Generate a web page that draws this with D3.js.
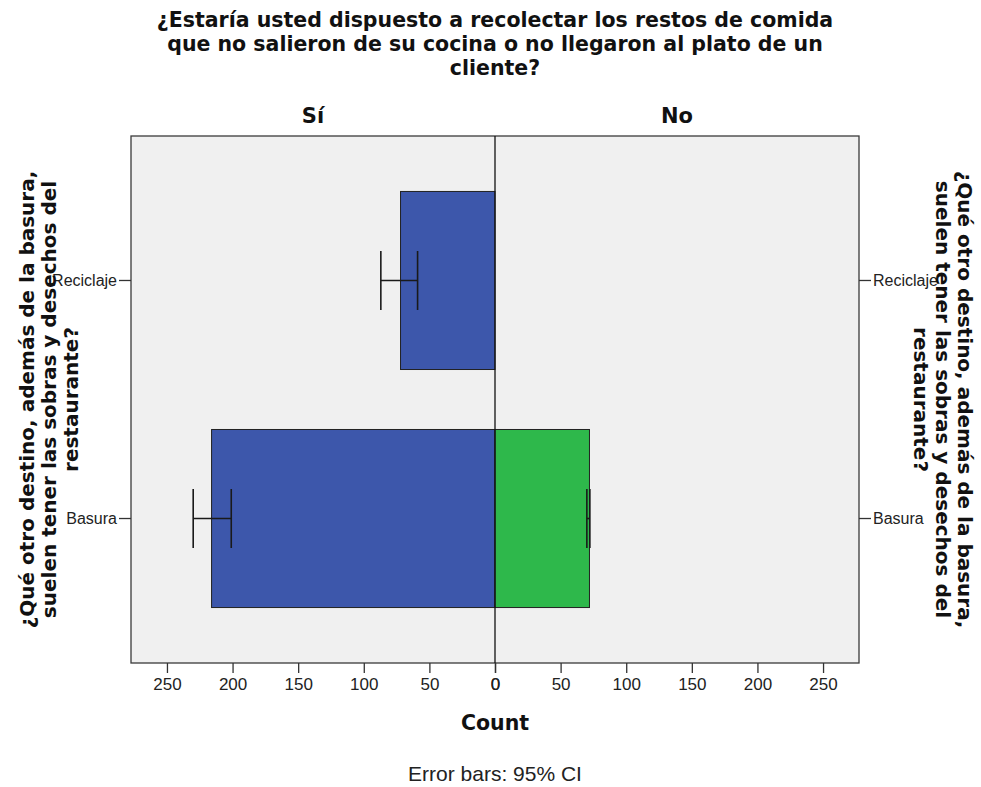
<!DOCTYPE html>
<html>
<head>
<meta charset="utf-8">
<script src="https://cdn.jsdelivr.net/npm/d3@7"></script>
<style>
  body { margin: 0; background: #ffffff; }
  svg { display: block; }
</style>
</head>
<body>
<svg id="chart" width="981" height="787"></svg>
<script>
// Categories of the response variable (rows) and the two answer panels (columns)
const categories = ["Reciclaje", "Basura"];
const panels = ["Sí", "No"];

// Counts per category in each panel
const countSi = [72, 216];
const countNo = [null, 72];

// 95% confidence intervals of the counts
const ciLowSi = [59, 201];
const ciHighSi = [87, 230];
const ciLowNo = [null, 70];
const ciHighNo = [null, 72.3];

// Tick values of the count axes
const xTicks = [0, 50, 100, 150, 200, 250];

const titleLines = [
  "¿Estaría usted dispuesto a recolectar los restos de comida",
  "que no salieron de su cocina o no llegaron al plato de un",
  "cliente?"
];
const axisTitleLines = [
  "¿Qué otro destino, además de la basura,",
  "suelen tener las sobras y desechos del",
  "restaurante?"
];
const xAxisTitle = "Count";
const footnote = "Error bars: 95% CI";

const panelColors = ["#3d57ab", "#2eb84b"];

const svg = d3.select("#chart");
const plot = { left: 131, right: 859, top: 136, bottom: 663 };
const mid = 495;
const xMax = 277.4;

const boldFont = "'DejaVu Sans', sans-serif";
const plainFont = "'Liberation Sans', Arial, sans-serif";

const xLeft = d3.scaleLinear().domain([xMax, 0]).range([plot.left, mid]);
const xRight = d3.scaleLinear().domain([0, xMax]).range([mid, plot.right]);
const y = d3.scaleBand()
  .domain(categories)
  .range([plot.top, plot.bottom])
  .paddingInner(0.252)
  .paddingOuter(0.233);

const panelData = [
  { name: panels[0], x: xLeft, values: countSi, lo: ciLowSi, hi: ciHighSi, color: panelColors[0] },
  { name: panels[1], x: xRight, values: countNo, lo: ciLowNo, hi: ciHighNo, color: panelColors[1] }
];

// Plot background
svg.append("rect")
  .attr("x", plot.left).attr("y", plot.top)
  .attr("width", plot.right - plot.left).attr("height", plot.bottom - plot.top)
  .attr("fill", "#f0f0f0");

// Bars
panelData.forEach(p => {
  const g = svg.append("g").attr("class", "bars");
  categories.forEach((c, i) => {
    const v = p.values[i];
    if (v == null) return;
    const x0 = p.x(0), x1 = p.x(v);
    g.append("rect")
      .attr("x", Math.min(x0, x1))
      .attr("y", y(c))
      .attr("width", Math.abs(x1 - x0))
      .attr("height", y.bandwidth())
      .attr("fill", p.color)
      .attr("stroke", "#222")
      .attr("stroke-width", 1);
  });
});

// Error bars
const capHalf = 29.5;
panelData.forEach(p => {
  const g = svg.append("g").attr("class", "errorbars")
    .attr("stroke", "#1a1a1a").attr("stroke-width", 1.6).attr("fill", "none");
  categories.forEach((c, i) => {
    const lo = p.lo[i], hi = p.hi[i];
    if (lo == null || hi == null) return;
    const yc = y(c) + y.bandwidth() / 2;
    g.append("line").attr("x1", p.x(lo)).attr("x2", p.x(hi)).attr("y1", yc).attr("y2", yc);
    [lo, hi].forEach(v => {
      g.append("line").attr("x1", p.x(v)).attr("x2", p.x(v))
        .attr("y1", yc - capHalf).attr("y2", yc + capHalf);
    });
  });
});

// Frame and panel divider
svg.append("rect")
  .attr("x", plot.left).attr("y", plot.top)
  .attr("width", plot.right - plot.left).attr("height", plot.bottom - plot.top)
  .attr("fill", "none").attr("stroke", "#3a3a3a").attr("stroke-width", 1.3);
svg.append("line")
  .attr("x1", mid).attr("x2", mid).attr("y1", plot.top).attr("y2", plot.bottom)
  .attr("stroke", "#111").attr("stroke-width", 1.3);

// Count axes
function styleAxis(g, size) {
  g.select(".domain").remove();
  g.selectAll(".tick line").attr("stroke", "#333").attr("stroke-width", 1.3);
  g.selectAll(".tick text")
    .attr("fill", "#222")
    .style("font-family", plainFont)
    .style("font-size", size + "px");
}
panelData.forEach(p => {
  svg.append("g")
    .attr("transform", `translate(0,${plot.bottom})`)
    .call(d3.axisBottom(p.x).tickValues(xTicks).tickSize(10).tickPadding(5).tickFormat(d3.format("d")))
    .call(g => styleAxis(g, 17));
});

// Category axes on both sides
svg.append("g")
  .attr("transform", `translate(${plot.left},0)`)
  .call(d3.axisLeft(y).tickSize(12).tickPadding(2))
  .call(g => styleAxis(g, 16));
svg.append("g")
  .attr("transform", `translate(${plot.right},0)`)
  .call(d3.axisRight(y).tickSize(12).tickPadding(2))
  .call(g => styleAxis(g, 16));

// Chart title
const title = svg.append("text")
  .attr("text-anchor", "middle")
  .style("font-family", boldFont).style("font-weight", "bold").style("font-size", "20.5px")
  .attr("fill", "#111");
titleLines.forEach((t, i) => {
  title.append("tspan").attr("x", mid).attr("y", 27 + i * 24).text(t);
});

// Panel headers
panelData.forEach(p => {
  const r = p.x.range();
  svg.append("text")
    .attr("x", (r[0] + r[1]) / 2).attr("y", 123)
    .attr("text-anchor", "middle")
    .style("font-family", boldFont).style("font-weight", "bold").style("font-size", "21px")
    .attr("fill", "#111")
    .text(p.name);
});

// Vertical axis titles (left reads upward, right reads downward)
const yMid = (plot.top + plot.bottom) / 2;
const lineStep = 22;
const leftTitle = svg.append("text")
  .attr("transform", `translate(34,${yMid}) rotate(-90)`)
  .attr("text-anchor", "middle")
  .style("font-family", boldFont).style("font-weight", "bold").style("font-size", "20px")
  .attr("fill", "#111");
axisTitleLines.forEach((t, i) => {
  leftTitle.append("tspan").attr("x", 0).attr("y", i * lineStep).text(t);
});
const rightTitle = svg.append("text")
  .attr("transform", `translate(958,${yMid}) rotate(90)`)
  .attr("text-anchor", "middle")
  .style("font-family", boldFont).style("font-weight", "bold").style("font-size", "20px")
  .attr("fill", "#111");
axisTitleLines.forEach((t, i) => {
  rightTitle.append("tspan").attr("x", 0).attr("y", i * lineStep).text(t);
});

// Count axis title and footnote
svg.append("text")
  .attr("x", mid).attr("y", 730)
  .attr("text-anchor", "middle")
  .style("font-family", boldFont).style("font-weight", "bold").style("font-size", "20.5px")
  .attr("fill", "#111")
  .text(xAxisTitle);
svg.append("text")
  .attr("x", mid).attr("y", 781)
  .attr("text-anchor", "middle")
  .style("font-family", plainFont).style("font-size", "21px")
  .attr("fill", "#222")
  .text(footnote);
</script>
</body>
</html>
